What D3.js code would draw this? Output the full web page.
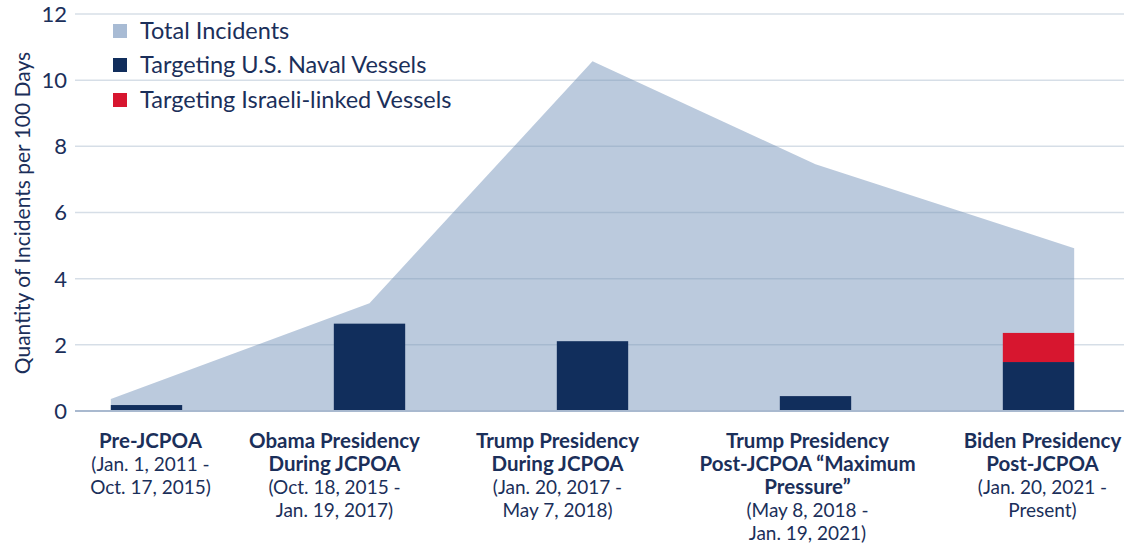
<!DOCTYPE html>
<html>
<head>
<meta charset="utf-8">
<script src="https://cdn.jsdelivr.net/npm/d3@7"></script>
<style>
  body { margin: 0; background: #fff; }
  svg { display: block; font-family: Lato, "Noto Sans", sans-serif; }
</style>
</head>
<body>
<script>
// datos
var periods = ["pre", "obama", "trump1", "trump2", "biden"];
var totalIncidents = [0.36, 3.26, 10.57, 7.46, 4.92];
var navalVessels = [0.18, 2.64, 2.11, 0.45, 1.48];
var israeliVessels = [0, 0, 0, 0, 0.88];
var yTicks = [0, 2, 4, 6, 8, 10, 12];

var boldLines = [
  ["Pre-JCPOA"],
  ["Obama Presidency", "During JCPOA"],
  ["Trump Presidency", "During JCPOA"],
  ["Trump Presidency", "Post-JCPOA \u201cMaximum", "Pressure\u201d"],
  ["Biden Presidency", "Post-JCPOA"]
];
var dateLines = [
  ["(Jan. 1, 2011 -", "Oct. 17, 2015)"],
  ["(Oct. 18, 2015 -", "Jan. 19, 2017)"],
  ["(Jan. 20, 2017 -", "May 7, 2018)"],
  ["(May 8, 2018 -", "Jan. 19, 2021)"],
  ["(Jan. 20, 2021 -", "Present)"]
];
var legendItems = ["Total Incidents", "Targeting U.S. Naval Vessels", "Targeting Israeli-linked Vessels"];

// ajustes de posicion de las etiquetas (no son datos)
var labelShift = [4, -35, -35, -8, 4];

var colTotal = "#a8bbd4";
var colNavy = "#112e5c";
var colRed = "#d7162f";
var colText = "#1b2f5a";

var width = 1124, height = 546;

var svg = d3.select("body").append("svg")
  .attr("width", width)
  .attr("height", height);

var x = d3.scaleBand()
  .domain(periods)
  .range([35, 1150])
  .paddingInner(0.68)
  .paddingOuter(0.34);

var y = d3.scaleLinear()
  .domain([0, 12])
  .range([411, 14]);

// area de incidentes totales
var areaPts = periods.map(function(p, i) {
  var px = x(p) + x.bandwidth() / 2;
  if (i === 0) px = x(p);
  if (i === periods.length - 1) px = x(p) + x.bandwidth();
  return [px, totalIncidents[i]];
});

svg.append("path")
  .datum(areaPts)
  .attr("fill", colTotal)
  .attr("fill-opacity", 0.78)
  .attr("d", d3.area().x(d => d[0]).y0(y(0)).y1(d => y(d[1])));

// lineas de grilla
svg.append("g")
  .selectAll("line")
  .data(yTicks.filter(d => d > 0))
  .join("line")
    .attr("x1", 75)
    .attr("x2", width)
    .attr("y1", d => y(d))
    .attr("y2", d => y(d))
    .attr("stroke", "rgba(120,145,175,0.3)")
    .attr("stroke-width", 1.5);

// barras
svg.append("g")
  .selectAll("rect")
  .data(periods)
  .join("rect")
    .attr("x", d => x(d))
    .attr("width", x.bandwidth())
    .attr("y", (d, i) => y(navalVessels[i]))
    .attr("height", (d, i) => y(0) - y(navalVessels[i]))
    .attr("fill", colNavy);

svg.append("g")
  .selectAll("rect")
  .data(periods.filter((d, i) => israeliVessels[i] > 0))
  .join("rect")
    .attr("x", d => x(d))
    .attr("width", x.bandwidth())
    .attr("y", d => { var i = periods.indexOf(d); return y(navalVessels[i] + israeliVessels[i]); })
    .attr("height", d => { var i = periods.indexOf(d); return y(navalVessels[i]) - y(navalVessels[i] + israeliVessels[i]); })
    .attr("fill", colRed);

// eje cero
svg.append("line")
  .attr("x1", 75).attr("x2", width)
  .attr("y1", y(0)).attr("y2", y(0))
  .attr("stroke", "#a9b9cf")
  .attr("stroke-width", 2);

// etiquetas eje y
svg.append("g")
  .attr("text-anchor", "end")
  .selectAll("text")
  .data(yTicks)
  .join("text")
    .attr("x", 67)
    .attr("y", d => y(d))
    .attr("dy", "0.36em")
    .attr("font-size", 22)
    .attr("fill", colText)
    .text(d => d);

svg.append("text")
  .attr("transform", "translate(30,213) rotate(-90)")
  .attr("text-anchor", "middle")
  .attr("font-size", 21)
  .attr("fill", colText)
  .text("Quantity of Incidents per 100 Days");

// leyenda
var legendColors = [colTotal, colNavy, colRed];
var leg = svg.append("g")
  .selectAll("g")
  .data(legendItems)
  .join("g")
    .attr("transform", (d, i) => `translate(113,${[31, 65, 100][i]})`);

leg.append("rect")
  .attr("x", 0).attr("y", -7)
  .attr("width", 14).attr("height", 14)
  .attr("fill", (d, i) => legendColors[i]);

leg.append("text")
  .attr("x", 27)
  .attr("dy", "0.36em")
  .attr("font-size", 23.5)
  .attr("fill", colText)
  .text(d => d);

// etiquetas de categorias
var cats = svg.append("g")
  .attr("text-anchor", "middle")
  .attr("fill", colText)
  .selectAll("text")
  .data(periods)
  .join("text")
    .attr("font-size", 19);

cats.each(function(p, i) {
  var t = d3.select(this);
  var cx = x(p) + x.bandwidth() / 2 + labelShift[i];
  var lines = boldLines[i].map(s => [s, true]).concat(dateLines[i].map(s => [s, false]));
  lines.forEach(function(l, j) {
    t.append("tspan")
      .attr("x", cx)
      .attr("y", 448 + j * 23)
      .attr("font-weight", l[1] ? "bold" : "normal")
      .attr("font-size", l[1] ? 20.5 : 19)
      .text(l[0]);
  });
});
</script>
</body>
</html>
